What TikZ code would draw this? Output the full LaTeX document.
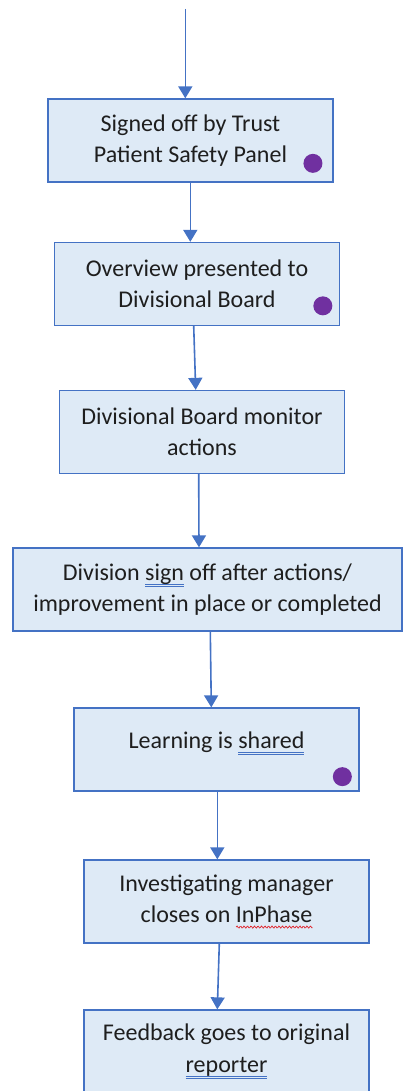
\documentclass[tikz,border=0pt]{standalone}
\usepackage{fontspec}
\setmainfont{Carlito}
\usetikzlibrary{arrows.meta}

\definecolor{flowblue}{HTML}{4472C4}
\definecolor{boxfill}{HTML}{DEEAF6}
\definecolor{flagpurple}{HTML}{7030A0}
\definecolor{spellred}{HTML}{E0242C}
\definecolor{textgrey}{HTML}{1E1E1E}

\def\boxwidth{285}
\def\boxheight{83}
\newdimen\wavewd

% double blue line and red wave under a word
\newcommand\gramline[1]{\setbox0\hbox{#1}\leavevmode
  \rlap{\textcolor{flowblue}{\lower6.5pt\hbox{\vbox{\hrule width\wd0 height.8pt\kern1.4pt\hrule width\wd0 height.8pt}}}}\box0\relax}
\newcommand\spellline[1]{\setbox0\hbox{#1}\wavewd=\wd0\leavevmode
  \rlap{\raisebox{-6pt}{\tikz\draw[spellred, line width=.7pt, x=1pt, y=1pt]
    plot[domain=0:\wavewd, samples=80, smooth] (\x,{1.1*sin(\x*103)});}}\box0\relax}

\tikzset{
  stepbox/.style={draw=flowblue, fill=boxfill, line width=1.3pt, align=center,
    minimum width=\boxwidth pt, minimum height=\boxheight pt, inner sep=0pt,
    text=textgrey, font=\fontsize{24}{31.5}\selectfont},
  flow/.style={draw=flowblue, line width=1.6pt, -{Triangle[width=14pt,length=12pt]}},
  flag/.style={circle, fill=flagpurple, minimum size=19pt, inner sep=0pt}
}

\begin{document}
\begin{tikzpicture}[x=1pt,y=-1pt]
  \clip (0,0) rectangle (404,1091);

  % steps, top to bottom
  \node[stepbox] (b1) at (190.5,140.5) {Signed off by Trust\\Patient Safety Panel};
  \node[stepbox] (b2) at (197,284)     {Overview presented to\\Divisional Board};
  \node[stepbox] (b3) at (202,432)     {Divisional Board monitor\\actions};
  \node[stepbox, minimum width=389pt] (b4) at (207.5,589.5)
    {Division \gramline{sign} off after actions/\\improvement in place or completed};
  \node[stepbox, text height=17pt, text depth=20pt] (b5) at (216.5,749.5)
    {Learning is \gramline{shared}};
  \node[stepbox] (b6) at (226.5,901.5) {Investigating manager\\closes on \spellline{InPhase}};
  \node[stepbox] (b7) at (226.5,1051.5) {Feedback goes to original\\\gramline{reporter}};

  % markers in the corners
  \node[flag] (f1) at ([shift={(-20.7,-19.3)}]b1.south east) {};
  \node[flag] (f2) at ([shift={(-17.3,-20.3)}]b2.south east) {};
  \node[flag] (f5) at ([shift={(-17.3,-15)}]b5.south east) {};

  % connectors
  \coordinate (in) at (185.3,9);
  \draw[flow] (in) -- ([xshift=-5.2pt]b1.north);
  \foreach \from/\to/\sfrom/\sto in {
      b1/b2/-0.2/-6.7,
      b2/b3/-3.3/-6.3,
      b3/b4/-3.3/-8.5,
      b4/b5/2.8/-5.2,
      b5/b6/0.8/-9.2,
      b6/b7/-7.2/-9.2} {
    \draw[flow] ([xshift=\sfrom pt]\from.south) -- ([xshift=\sto pt]\to.north);
  }
\end{tikzpicture}
\end{document}
